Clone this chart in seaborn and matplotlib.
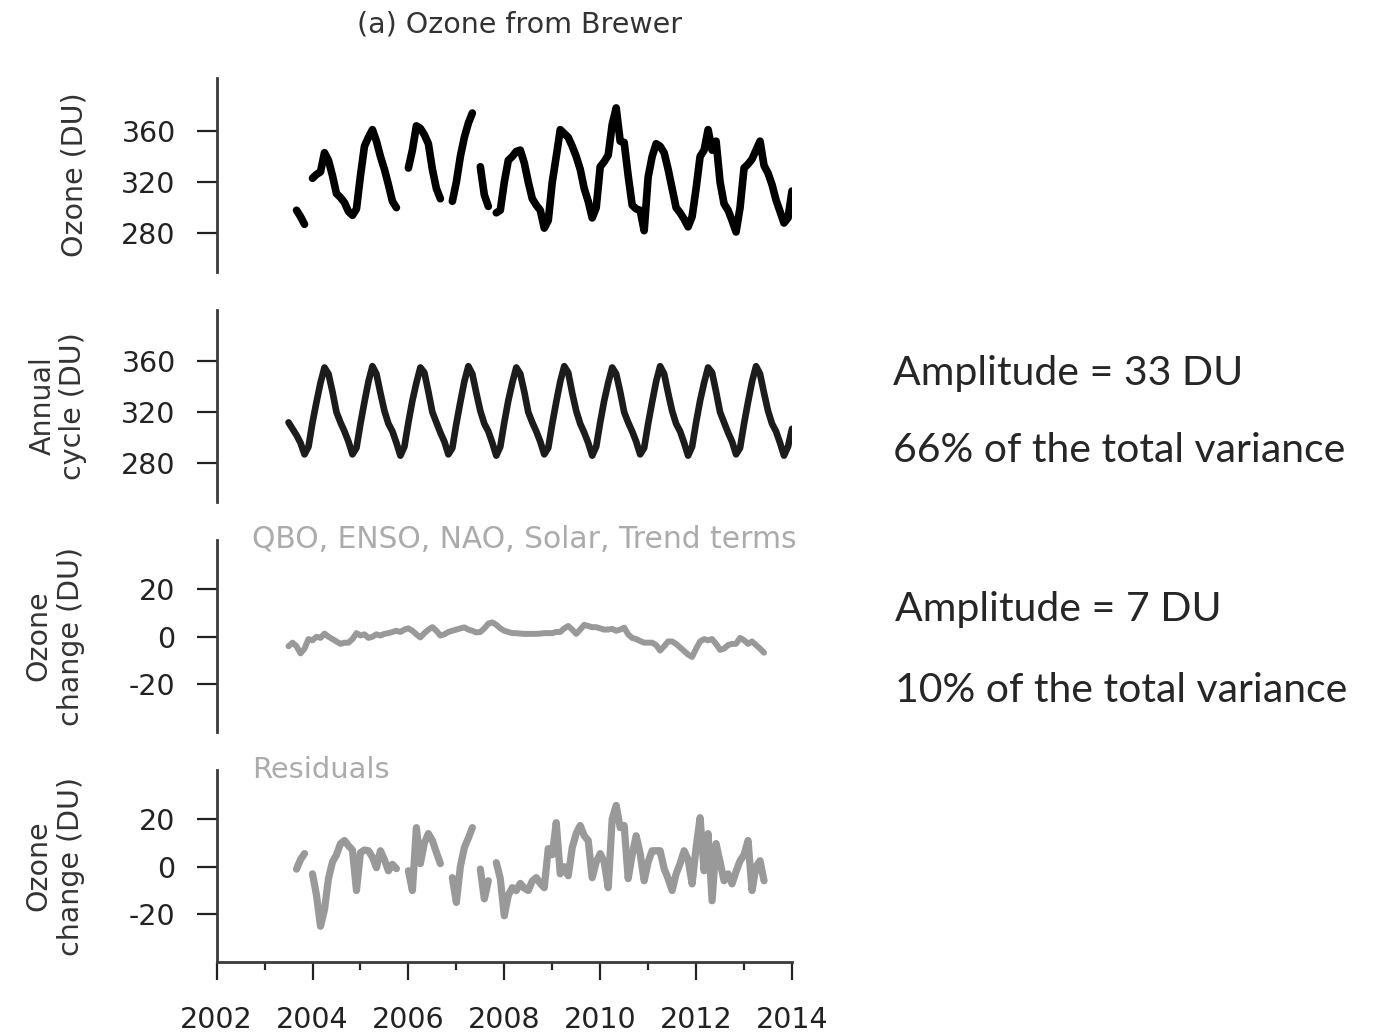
import numpy as np
import pandas as pd
import matplotlib
matplotlib.use("Agg")
import matplotlib.pyplot as plt
import seaborn as sns

nan = np.nan

# Monthly time axis in decimal years (Jul 2003 ... Jan 2014)
months = np.round(2003.5 + np.arange(127) / 12, 4)

# (a) Ozone from Brewer (DU)
ozone_obs = [
    nan, nan, 298, 293, 287, nan,
    323, 326, 328, 343, 337, 325, 311, 308, 304, 297, 294, 299,
    325, 348, 355, 361, 352, 340, 330, 318, 305, 300, nan, nan,
    331, 345, 364, 362, 357, 350, 330, 315, 307, nan, nan, 305,
    320, 340, 355, 366, 374, nan, 332, 310, 301, nan, 296, 298,
    320, 337, 340, 344, 345, 335, 320, 307, 302, 298, 284, 290,
    320, 340, 361, 358, 355, 348, 340, 330, 315, 305, 292, 300,
    332, 336, 341, 365, 378, 352, 351, 325, 302, 299, 298, 282,
    324, 340, 350, 348, 343, 330, 315, 300, 296, 291, 285, 293,
    315, 340, 345, 361, 345, 352, 320, 303, 298, 290, 281, 300,
    331, 334, 338, 345, 352, 333, 327, 318, 306, 297, 288, 292,
    313,
]

# Annual cycle (DU)
annual_cycle = [
    312, 307, 302, 296, 287, 293,
    312, 328, 343, 355, 350, 336, 320, 312, 305, 297, 287, 292,
    311, 328, 344, 356, 350, 335, 321, 311, 305, 296, 286, 293,
    312, 329, 343, 355, 351, 336, 320, 312, 304, 297, 287, 292,
    311, 328, 344, 356, 350, 335, 321, 311, 305, 296, 286, 293,
    312, 329, 343, 355, 350, 336, 320, 312, 305, 297, 287, 292,
    311, 328, 344, 356, 351, 335, 321, 311, 304, 296, 286, 293,
    312, 329, 343, 355, 350, 336, 320, 312, 305, 297, 287, 292,
    311, 328, 344, 356, 350, 335, 321, 311, 305, 296, 286, 293,
    312, 329, 343, 355, 351, 336, 320, 312, 304, 297, 287, 292,
    311, 328, 344, 356, 350, 335, 321, 311, 305, 296, 286, 293,
    307,
]

# QBO, ENSO, NAO, Solar, Trend terms (DU)
proxy_terms = [
    -4, -2.5, -4, -7, -5, -1,
    -1.5, 0, -0.5, 1.3, 0, -1, -2, -3, -2.5, -2.5, -1, 1.5,
    0.5, 1, -0.5, 0, 1, 0.5, 1.2, 1.5, 2, 2.5, 2, 3,
    3.5, 2.5, 1, -0.3, 1.5, 3, 4, 2.5, 0.5, 1, 2, 2.5,
    3, 3.5, 3.9, 3, 2.5, 1.8, 2, 3.5, 5.5, 6, 5, 3.5,
    2.5, 2, 1.5, 1.5, 1.3, 1.2, 1.2, 1.2, 1.2, 1.3, 1.5, 1.5,
    1.5, 2, 2, 3.5, 4.5, 3, 1.2, 3, 5, 4.5, 4, 4,
    3.5, 3, 3, 3.3, 2.5, 3, 3.8, 1, -0.5, -1, -1.8, -2.5,
    -2.5, -2.5, -3.5, -5.8, -4, -2, -2, -3, -4.5, -6, -7.5, -8.5,
    -5, -2, -1, -1.5, -1, -3, -5.5, -5, -3.5, -3, -3, -0.5,
    -1.5, -3, -2, -3.5, -5, -6.7, nan, nan, nan, nan, nan, nan,
    nan,
]

# Residuals (DU)
residuals = [
    nan, nan, -1, 3, 5.5, nan,
    -3, -12, -25, -18, -5, 2, 5, 9.7, 11, 8.8, 7, -10,
    5.9, 7, 6.7, 4, -0.4, 6.7, 3, -1.7, 1, -0.8, nan, nan,
    -1.7, -10, 16.4, 1.3, 10, 13.9, 11, 6, 1.3, nan, nan, -4.6,
    -15, 0, 8, 12, 16.4, nan, -1, -13.5, -5.9, nan, 1.7, -5,
    -20.6, -12, -8.8, -10, -7, -9, -10, -6, -4.6, -7, -8.8, 7.6,
    5, 18.5, -3, 0, -3.8, 8, 14, 17.3, 13, 11, -4.6, 2,
    5.5, 2, -8.8, 20, 25.7, 16.4, 17.3, -5, 5, 13, 5.5, -5.9,
    2, 6.7, 6.7, 6.7, -0.8, -5, -10, -3, 1.3, 6.7, 3, -7.2,
    8, 20.6, -1.7, 13.9, -14.3, 9.7, 2, -5.9, -3, -7.2, -2, 2.5,
    5, 11, -10, 0, 2.5, -5.9, nan, nan, nan, nan, nan, nan,
    nan,
]

title = "(a) Ozone from Brewer"
panel_ylabels = ["Ozone (DU)", "Annual\ncycle (DU)", "Ozone\nchange (DU)", "Ozone\nchange (DU)"]
panel_notes = ["", "", "QBO, ENSO, NAO, Solar, Trend terms", "Residuals"]
ozone_ticks = [280, 320, 360]
change_ticks = [-20, 0, 20]
year_ticks = [2002, 2004, 2006, 2008, 2010, 2012, 2014]
minor_year_ticks = [2003, 2005, 2007, 2009, 2011, 2013]
side_notes = ["Amplitude = 33 DU", "66% of the total variance",
              "Amplitude = 7 DU", "10% of the total variance"]

# ---------------------------------------------------------------- style
sns.set_theme(style="white")
plt.rcParams["font.family"] = ["DejaVu Sans"]
plt.rcParams["axes.linewidth"] = 2.0
plt.rcParams["axes.edgecolor"] = "#3a3a3a"

W, H = 1397, 1035
fig = plt.figure(figsize=(W / 100, H / 100), dpi=100)

left = 216.6 / W
width = 575.4 / W
panel_px = [(78, 272), (310, 502), (540, 732), (770, 962)]
series = [ozone_obs, annual_cycle, proxy_terms, residuals]
colors = ["#000000", "#1c1c1c", "#999999", "#999999"]
lws = [5.5, 4.8, 4.3, 5.2]
ylims = [(249.7, 401.4), (249.7, 400.0), (-40, 40.6), (-40, 40.6)]
yticks = [ozone_ticks, ozone_ticks, change_ticks, change_ticks]
label_x = [-0.222, -0.225, -0.228, -0.228]
label_ls = [1.0, 1.1, 1.25, 1.25]
note_fs = [0, 0, 21.4, 20.8]

tick_fs = 20.5
for i, (top, bot) in enumerate(panel_px):
    ax = fig.add_axes([left, 1 - bot / H, width, (bot - top) / H])
    df = pd.DataFrame({"year": months, "value": series[i]})
    df["segment"] = df["value"].isna().cumsum()
    df = df.dropna()
    sns.lineplot(data=df, x="year", y="value", units="segment", estimator=None,
                 color=colors[i], linewidth=lws[i], ax=ax, legend=False)
    ax.set_xlim(2002, 2014)
    ax.set_ylim(*ylims[i])
    ax.set_yticks(yticks[i])
    ax.set_yticklabels([str(t) for t in yticks[i]])
    ax.tick_params(axis="y", which="major", left=True, length=14.5, width=1.6,
                   pad=15, labelsize=tick_fs, colors="#222222")
    sns.despine(ax=ax, top=True, right=True, bottom=(i < 3))
    ax.set_ylabel(panel_ylabels[i], fontsize=tick_fs, color="#333333",
                  linespacing=label_ls[i])
    ax.yaxis.set_label_coords(label_x[i], 0.5)
    if i < 3:
        ax.set_xticks([])
        ax.set_xlabel("")
    else:
        ax.set_xticks(year_ticks)
        ax.set_xticks(minor_year_ticks, minor=True)
        ax.set_xticklabels([str(y) for y in year_ticks])
        ax.tick_params(axis="x", which="major", bottom=True, length=13, width=1.6,
                       pad=19, labelsize=tick_fs, colors="#222222")
        ax.tick_params(axis="x", which="minor", bottom=True, length=6, width=1.6)
        ax.set_xlabel("")
    if panel_notes[i]:
        ax.text((252 - 216.6) / 575.4, 1.0, panel_notes[i], transform=ax.transAxes,
                ha="left", va="center", fontsize=note_fs[i], color="#ababab")

fig.text(520 / W, 1 - 25 / H, title, ha="center", va="center",
         fontsize=tick_fs, color="#333333")

note_y = [373, 451, 610, 690]
note_x = [893, 893, 895, 895]
for txt, x, y in zip(side_notes, note_x, note_y):
    fig.text(x / W, 1 - y / H, txt, ha="left", va="center", fontsize=29.5,
             color="#262626", family=["Lato", "DejaVu Sans"])

fig.savefig("out.png", dpi=100)
